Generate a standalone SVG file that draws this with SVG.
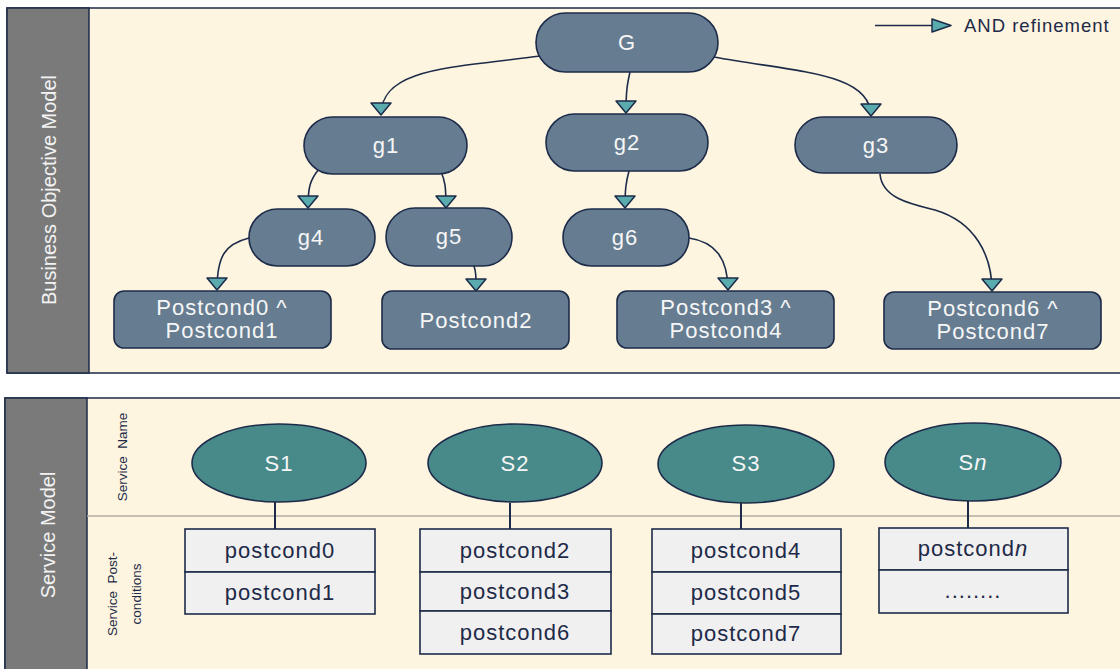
<svg xmlns="http://www.w3.org/2000/svg" width="1120" height="669" viewBox="0 0 1120 669">
<defs>
<style>
.panel{fill:#fdf5df;stroke:#1d2b4a;stroke-width:1.5}
.band{fill:#7a7a7a;stroke:#1d2b4a;stroke-width:1.5}
.goal{fill:#667d91;stroke:#1d2b4a;stroke-width:1.6}
.svc{fill:#48898a;stroke:#1d2b4a;stroke-width:1.6}
.row{fill:#f0f0f0;stroke:#1d2b4a;stroke-width:1.6}
.wt{font-family:"Liberation Sans",Arial,sans-serif;font-size:22px;fill:#f6f6f6;text-anchor:middle;letter-spacing:1px}
.dt{font-family:"Liberation Sans",Arial,sans-serif;font-size:22px;fill:#1e2a48;text-anchor:middle;letter-spacing:1px}
.vt{font-family:"Liberation Sans",Arial,sans-serif;font-size:20px;fill:#f2f2f2;text-anchor:middle}
.lt{font-family:"Liberation Sans",Arial,sans-serif;font-size:13.5px;fill:#1e2a48;text-anchor:middle}
.conn{fill:none;stroke:#1d2b4a;stroke-width:1.6;marker-end:url(#tri)}
.link{fill:none;stroke:#1d2b4a;stroke-width:2}
</style>
<marker id="tri" markerUnits="userSpaceOnUse" markerWidth="16" markerHeight="24" viewBox="-2 -2 16 24" refX="12" refY="10" orient="auto">
<path d="M0,0 L12,10 L0,20 Z" fill="#5aabad" stroke="#1d2b4a" stroke-width="1.5" stroke-linejoin="round"/>
</marker>
</defs>

<g id="top-panel">
<rect class="panel" x="7" y="8" width="1125" height="365"/>
<rect class="band" x="7" y="8" width="82" height="365"/>
<text class="vt" transform="translate(56,190) rotate(-90)">Business Objective Model</text>
</g>

<g id="bottom-panel">
<rect class="panel" x="5" y="398" width="1130" height="290"/>
<rect class="band" x="5" y="398" width="82" height="290"/>
<line x1="87" y1="516" x2="1125" y2="516" stroke="#b0aca0" stroke-width="1.5"/>
<text class="vt" transform="translate(55,535) rotate(-90)">Service Model</text>
<text class="lt" transform="translate(127,457) rotate(-90)" xml:space="preserve">Service  Name</text>
<text class="lt" transform="translate(117,594) rotate(-90)" xml:space="preserve">Service  Post-</text>
<text class="lt" transform="translate(141,594) rotate(-90)">conditions</text>
</g>

<g id="legend">
<line x1="875" y1="25.5" x2="932" y2="25.5" stroke="#1d2b4a" stroke-width="1.6"/>
<polygon points="932,19 951,25.5 932,32" fill="#5aabad" stroke="#1d2b4a" stroke-width="1.5" stroke-linejoin="round"/>
<text x="964" y="32" font-family="Liberation Sans, Arial, sans-serif" font-size="18.5" letter-spacing="1" fill="#1e2a48">AND refinement</text>
</g>

<g id="connectors">
<path class="conn" d="M540 56 C450 68 381 68 381 115"/>
<path class="conn" d="M630 72 C627 85 626 92 626 113"/>
<path class="conn" d="M714 57 C795 72 871 72 871 116"/>
<path class="conn" d="M319 169 C310 180 308 187 308 208"/>
<path class="conn" d="M441 172 C445 180 446 187 446 208"/>
<path class="conn" d="M629 171 C626 182 625 189 625 208"/>
<path class="conn" d="M249 238 C225 244 217 256 217 290"/>
<path class="conn" d="M474 266 C476 272 476 276 476 291"/>
<path class="conn" d="M689 238 C715 242 728 258 728 290"/>
<path class="conn" d="M880 174 C882 198 910 204 935 210 C975 222 992 255 992 291"/>
<line class="link" x1="275" y1="502" x2="275" y2="529"/>
<line class="link" x1="510" y1="503" x2="510" y2="529"/>
<line class="link" x1="741" y1="503" x2="741" y2="529"/>
<line class="link" x1="968" y1="501" x2="968" y2="528"/>
</g>

<g id="G"><rect class="goal" x="536" y="13" width="182" height="59" rx="29.5"/><text class="wt" x="627" y="50">G</text></g>
<g id="g1"><rect class="goal" x="304" y="117" width="163" height="57" rx="28.5"/><text class="wt" x="386" y="153">g1</text></g>
<g id="g2"><rect class="goal" x="546" y="114" width="162" height="57" rx="28.5"/><text class="wt" x="627" y="150">g2</text></g>
<g id="g3"><rect class="goal" x="795" y="117" width="162" height="56" rx="28"/><text class="wt" x="876" y="153">g3</text></g>
<g id="g4"><rect class="goal" x="249" y="209" width="126" height="57" rx="28.5"/><text class="wt" x="311" y="245">g4</text></g>
<g id="g5"><rect class="goal" x="386" y="208" width="126" height="58" rx="29"/><text class="wt" x="449" y="244">g5</text></g>
<g id="g6"><rect class="goal" x="563" y="209" width="126" height="57" rx="28.5"/><text class="wt" x="625" y="245">g6</text></g>

<g id="pc01"><rect class="goal" x="114" y="291" width="217" height="57" rx="10"/><text class="wt" x="222" y="315">Postcond0 ^</text><text class="wt" x="222" y="338">Postcond1</text></g>
<g id="pc2"><rect class="goal" x="382" y="291" width="187" height="58" rx="10"/><text class="wt" x="476" y="328">Postcond2</text></g>
<g id="pc34"><rect class="goal" x="617" y="291" width="217" height="57" rx="10"/><text class="wt" x="726" y="315">Postcond3 ^</text><text class="wt" x="726" y="338">Postcond4</text></g>
<g id="pc67"><rect class="goal" x="884" y="292" width="217" height="57" rx="10"/><text class="wt" x="993" y="316">Postcond6 ^</text><text class="wt" x="993" y="339">Postcond7</text></g>

<g id="S1"><ellipse class="svc" cx="279" cy="463" rx="87" ry="39"/><text class="wt" x="279" y="471">S1</text></g>
<g id="S2"><ellipse class="svc" cx="515" cy="463" rx="87" ry="39"/><text class="wt" x="515" y="471">S2</text></g>
<g id="S3"><ellipse class="svc" cx="746" cy="464" rx="88" ry="39"/><text class="wt" x="746" y="471">S3</text></g>
<g id="Sn"><ellipse class="svc" cx="973" cy="462" rx="88" ry="39"/><text class="wt" x="973" y="470">S<tspan font-style="italic">n</tspan></text></g>

<g id="box1">
<rect class="row" x="185" y="529" width="190" height="43"/><text class="dt" x="280" y="558">postcond0</text>
<rect class="row" x="185" y="572" width="190" height="42"/><text class="dt" x="280" y="600">postcond1</text>
</g>
<g id="box2">
<rect class="row" x="420" y="529" width="191" height="43"/><text class="dt" x="515" y="558">postcond2</text>
<rect class="row" x="420" y="572" width="191" height="39"/><text class="dt" x="515" y="599">postcond3</text>
<rect class="row" x="420" y="611" width="191" height="43"/><text class="dt" x="515" y="640">postcond6</text>
</g>
<g id="box3">
<rect class="row" x="652" y="529" width="189" height="43"/><text class="dt" x="746" y="558">postcond4</text>
<rect class="row" x="652" y="572" width="189" height="42"/><text class="dt" x="746" y="600">postcond5</text>
<rect class="row" x="652" y="614" width="189" height="40"/><text class="dt" x="746" y="641">postcond7</text>
</g>
<g id="box4">
<rect class="row" x="879" y="528" width="189" height="42"/><text class="dt" x="973" y="556">postcond<tspan font-style="italic">n</tspan></text>
<rect class="row" x="879" y="570" width="189" height="43"/><text class="dt" x="973" y="598">........</text>
</g>
</svg>
